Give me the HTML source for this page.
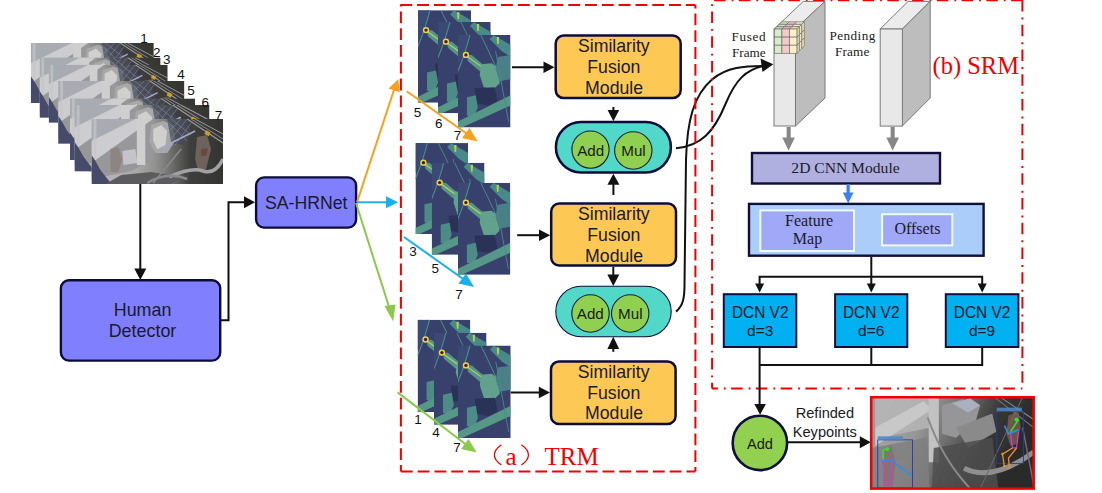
<!DOCTYPE html>
<html><head><meta charset="utf-8">
<style>
html,body{margin:0;padding:0;background:#fff;}
body{width:1102px;height:493px;overflow:hidden;}
svg{display:block;}
.sans{font-family:"Liberation Sans",sans-serif;}
.serif{font-family:"Liberation Serif",serif;}
</style></head>
<body>
<svg width="1102" height="493" viewBox="0 0 1102 493">
<defs>
  <filter id="bl" x="0" y="0" width="1" height="1"><feGaussianBlur stdDeviation="0.7"/></filter>
  <filter id="bl2" x="0" y="0" width="1" height="1"><feGaussianBlur stdDeviation="0.45"/></filter>
  <linearGradient id="phbg" x1="0" y1="0" x2="1" y2="0">
    <stop offset="0" stop-color="#b8bac2"/>
    <stop offset="0.35" stop-color="#a8a8aa"/>
    <stop offset="0.5" stop-color="#8e8e8c"/>
    <stop offset="0.62" stop-color="#6a6a68"/>
    <stop offset="0.75" stop-color="#3e3e3c"/>
    <stop offset="1" stop-color="#343432"/>
  </linearGradient>

  <linearGradient id="outbg" x1="0" y1="0" x2="1" y2="0.25">
    <stop offset="0" stop-color="#aaaaaa"/>
    <stop offset="0.35" stop-color="#979797"/>
    <stop offset="0.6" stop-color="#626262"/>
    <stop offset="0.78" stop-color="#363636"/>
    <stop offset="1" stop-color="#2a2a2a"/>
  </linearGradient>
</defs>

<!-- ============ LEFT PHOTO STACK ============ -->
<g id="stack">
  <g filter="url(#bl)"><svg x="30.8" y="43" width="123" height="60" viewBox="0 0 132 65" preserveAspectRatio="none" overflow="hidden"><rect width="132" height="65" fill="url(#phbg)"/>
    <polygon points="0,0 44,0 0,22" fill="#a9abb2"/>
    <polygon points="0,22 44,0 62,0 0,44" fill="#cdcdd0"/>
    <polygon points="0,44 62,0 62,40 40,52 0,60" fill="#98989a"/>
    <rect x="2" y="0" width="3" height="40" fill="#c6c6c8" opacity="0.7"/>
    <polygon points="0,36 0,65 20,65 9,51 4,42" fill="#454c68"/>
    <polygon points="19,30 27,28 31,40 27,53 19,53" fill="#8e8480"/>
    <polygon points="31,32 44,30 46,44 32,46" fill="#c4c4ca"/>
    <rect x="45.5" y="0" width="8.5" height="46" fill="#cfcfcf"/>
    <polygon points="14,65 30,56 60,53 90,58 80,65" fill="#5c5c5e"/>
    <polygon points="60,6 72,2 82,6 84,22 76,34 64,34 58,22" fill="#a8a8aa"/>
    <polygon points="62,10 70,6 76,12 74,28 66,30 62,22" fill="#d0d0ce"/>
    <polygon points="76,0 96,0 100,14 92,26 80,24" fill="#464852" opacity="0.7"/>
    <path d="M76,2 L96,22 M80,0 L100,16 M96,0 L78,22 M90,0 L76,14 M100,4 L84,26" stroke="#8290c8" stroke-width="0.7" fill="none" opacity="0.8"/>
    <line x1="68" y1="30" x2="104" y2="12" stroke="#a0a8cc" stroke-width="1.6"/>
    <line x1="96" y1="0" x2="132" y2="24" stroke="#9a9aa0" stroke-width="1.2"/>
    <line x1="100" y1="0" x2="132" y2="20" stroke="#8a8a90" stroke-width="1"/>
    <line x1="104" y1="0" x2="132" y2="15" stroke="#9a9aa0" stroke-width="1"/>
    <rect x="114" y="12" width="5" height="4" fill="#c8a030" transform="rotate(30 116 14)"/>
    <polygon points="106,18 116,16 120,30 115,50 107,52 104,40" fill="#6e625a"/>
    <polygon points="110,30 117,29 115,37 110,37" fill="#6a3028" opacity="0.5"/>
    <path d="M78,58 Q100,48 112,52 T132,40" stroke="#a2a2a4" stroke-width="3.5" fill="none"/>
    <path d="M56,64 Q76,52 96,60" stroke="#8a8a8c" stroke-width="2.5" fill="none"/>
    <line x1="62" y1="64" x2="90" y2="30" stroke="#8a8a8c" stroke-width="1.5"/></svg></g>
  <g filter="url(#bl)"><svg x="39.6" y="57.5" width="121" height="60.3" viewBox="0 0 132 65" preserveAspectRatio="none" overflow="hidden"><rect width="132" height="65" fill="url(#phbg)"/>
    <polygon points="0,0 44,0 0,22" fill="#a9abb2"/>
    <polygon points="0,22 44,0 62,0 0,44" fill="#cdcdd0"/>
    <polygon points="0,44 62,0 62,40 40,52 0,60" fill="#98989a"/>
    <rect x="2" y="0" width="3" height="40" fill="#c6c6c8" opacity="0.7"/>
    <polygon points="0,36 0,65 20,65 9,51 4,42" fill="#454c68"/>
    <polygon points="19,30 27,28 31,40 27,53 19,53" fill="#8e8480"/>
    <polygon points="31,32 44,30 46,44 32,46" fill="#c4c4ca"/>
    <rect x="45.5" y="0" width="8.5" height="46" fill="#cfcfcf"/>
    <polygon points="14,65 30,56 60,53 90,58 80,65" fill="#5c5c5e"/>
    <polygon points="60,6 72,2 82,6 84,22 76,34 64,34 58,22" fill="#a8a8aa"/>
    <polygon points="62,10 70,6 76,12 74,28 66,30 62,22" fill="#d0d0ce"/>
    <polygon points="76,0 96,0 100,14 92,26 80,24" fill="#464852" opacity="0.7"/>
    <path d="M76,2 L96,22 M80,0 L100,16 M96,0 L78,22 M90,0 L76,14 M100,4 L84,26" stroke="#8290c8" stroke-width="0.7" fill="none" opacity="0.8"/>
    <line x1="68" y1="30" x2="104" y2="12" stroke="#a0a8cc" stroke-width="1.6"/>
    <line x1="96" y1="0" x2="132" y2="24" stroke="#9a9aa0" stroke-width="1.2"/>
    <line x1="100" y1="0" x2="132" y2="20" stroke="#8a8a90" stroke-width="1"/>
    <line x1="104" y1="0" x2="132" y2="15" stroke="#9a9aa0" stroke-width="1"/>
    <rect x="114" y="12" width="5" height="4" fill="#c8a030" transform="rotate(30 116 14)"/>
    <polygon points="106,18 116,16 120,30 115,50 107,52 104,40" fill="#6e625a"/>
    <polygon points="110,30 117,29 115,37 110,37" fill="#6a3028" opacity="0.5"/>
    <path d="M78,58 Q100,48 112,52 T132,40" stroke="#a2a2a4" stroke-width="3.5" fill="none"/>
    <path d="M56,64 Q76,52 96,60" stroke="#8a8a8c" stroke-width="2.5" fill="none"/>
    <line x1="62" y1="64" x2="90" y2="30" stroke="#8a8a8c" stroke-width="1.5"/></svg></g>
  <g filter="url(#bl)"><svg x="48.7" y="64.7" width="119" height="58" viewBox="0 0 132 65" preserveAspectRatio="none" overflow="hidden"><rect width="132" height="65" fill="url(#phbg)"/>
    <polygon points="0,0 44,0 0,22" fill="#a9abb2"/>
    <polygon points="0,22 44,0 62,0 0,44" fill="#cdcdd0"/>
    <polygon points="0,44 62,0 62,40 40,52 0,60" fill="#98989a"/>
    <rect x="2" y="0" width="3" height="40" fill="#c6c6c8" opacity="0.7"/>
    <polygon points="0,36 0,65 20,65 9,51 4,42" fill="#454c68"/>
    <polygon points="19,30 27,28 31,40 27,53 19,53" fill="#8e8480"/>
    <polygon points="31,32 44,30 46,44 32,46" fill="#c4c4ca"/>
    <rect x="45.5" y="0" width="8.5" height="46" fill="#cfcfcf"/>
    <polygon points="14,65 30,56 60,53 90,58 80,65" fill="#5c5c5e"/>
    <polygon points="60,6 72,2 82,6 84,22 76,34 64,34 58,22" fill="#a8a8aa"/>
    <polygon points="62,10 70,6 76,12 74,28 66,30 62,22" fill="#d0d0ce"/>
    <polygon points="76,0 96,0 100,14 92,26 80,24" fill="#464852" opacity="0.7"/>
    <path d="M76,2 L96,22 M80,0 L100,16 M96,0 L78,22 M90,0 L76,14 M100,4 L84,26" stroke="#8290c8" stroke-width="0.7" fill="none" opacity="0.8"/>
    <line x1="68" y1="30" x2="104" y2="12" stroke="#a0a8cc" stroke-width="1.6"/>
    <line x1="96" y1="0" x2="132" y2="24" stroke="#9a9aa0" stroke-width="1.2"/>
    <line x1="100" y1="0" x2="132" y2="20" stroke="#8a8a90" stroke-width="1"/>
    <line x1="104" y1="0" x2="132" y2="15" stroke="#9a9aa0" stroke-width="1"/>
    <rect x="114" y="12" width="5" height="4" fill="#c8a030" transform="rotate(30 116 14)"/>
    <polygon points="106,18 116,16 120,30 115,50 107,52 104,40" fill="#6e625a"/>
    <polygon points="110,30 117,29 115,37 110,37" fill="#6a3028" opacity="0.5"/>
    <path d="M78,58 Q100,48 112,52 T132,40" stroke="#a2a2a4" stroke-width="3.5" fill="none"/>
    <path d="M56,64 Q76,52 96,60" stroke="#8a8a8c" stroke-width="2.5" fill="none"/>
    <line x1="62" y1="64" x2="90" y2="30" stroke="#8a8a8c" stroke-width="1.5"/></svg></g>
  <g filter="url(#bl)"><svg x="58.2" y="81" width="126.2" height="62.8" viewBox="0 0 132 65" preserveAspectRatio="none" overflow="hidden"><rect width="132" height="65" fill="url(#phbg)"/>
    <polygon points="0,0 44,0 0,22" fill="#a9abb2"/>
    <polygon points="0,22 44,0 62,0 0,44" fill="#cdcdd0"/>
    <polygon points="0,44 62,0 62,40 40,52 0,60" fill="#98989a"/>
    <rect x="2" y="0" width="3" height="40" fill="#c6c6c8" opacity="0.7"/>
    <polygon points="0,36 0,65 20,65 9,51 4,42" fill="#454c68"/>
    <polygon points="19,30 27,28 31,40 27,53 19,53" fill="#8e8480"/>
    <polygon points="31,32 44,30 46,44 32,46" fill="#c4c4ca"/>
    <rect x="45.5" y="0" width="8.5" height="46" fill="#cfcfcf"/>
    <polygon points="14,65 30,56 60,53 90,58 80,65" fill="#5c5c5e"/>
    <polygon points="60,6 72,2 82,6 84,22 76,34 64,34 58,22" fill="#a8a8aa"/>
    <polygon points="62,10 70,6 76,12 74,28 66,30 62,22" fill="#d0d0ce"/>
    <polygon points="76,0 96,0 100,14 92,26 80,24" fill="#464852" opacity="0.7"/>
    <path d="M76,2 L96,22 M80,0 L100,16 M96,0 L78,22 M90,0 L76,14 M100,4 L84,26" stroke="#8290c8" stroke-width="0.7" fill="none" opacity="0.8"/>
    <line x1="68" y1="30" x2="104" y2="12" stroke="#a0a8cc" stroke-width="1.6"/>
    <line x1="96" y1="0" x2="132" y2="24" stroke="#9a9aa0" stroke-width="1.2"/>
    <line x1="100" y1="0" x2="132" y2="20" stroke="#8a8a90" stroke-width="1"/>
    <line x1="104" y1="0" x2="132" y2="15" stroke="#9a9aa0" stroke-width="1"/>
    <rect x="114" y="12" width="5" height="4" fill="#c8a030" transform="rotate(30 116 14)"/>
    <polygon points="106,18 116,16 120,30 115,50 107,52 104,40" fill="#6e625a"/>
    <polygon points="110,30 117,29 115,37 110,37" fill="#6a3028" opacity="0.5"/>
    <path d="M78,58 Q100,48 112,52 T132,40" stroke="#a2a2a4" stroke-width="3.5" fill="none"/>
    <path d="M56,64 Q76,52 96,60" stroke="#8a8a8c" stroke-width="2.5" fill="none"/>
    <line x1="62" y1="64" x2="90" y2="30" stroke="#8a8a8c" stroke-width="1.5"/></svg></g>
  <g filter="url(#bl)"><svg x="70" y="98.4" width="125" height="61.6" viewBox="0 0 132 65" preserveAspectRatio="none" overflow="hidden"><rect width="132" height="65" fill="url(#phbg)"/>
    <polygon points="0,0 44,0 0,22" fill="#a9abb2"/>
    <polygon points="0,22 44,0 62,0 0,44" fill="#cdcdd0"/>
    <polygon points="0,44 62,0 62,40 40,52 0,60" fill="#98989a"/>
    <rect x="2" y="0" width="3" height="40" fill="#c6c6c8" opacity="0.7"/>
    <polygon points="0,36 0,65 20,65 9,51 4,42" fill="#454c68"/>
    <polygon points="19,30 27,28 31,40 27,53 19,53" fill="#8e8480"/>
    <polygon points="31,32 44,30 46,44 32,46" fill="#c4c4ca"/>
    <rect x="45.5" y="0" width="8.5" height="46" fill="#cfcfcf"/>
    <polygon points="14,65 30,56 60,53 90,58 80,65" fill="#5c5c5e"/>
    <polygon points="60,6 72,2 82,6 84,22 76,34 64,34 58,22" fill="#a8a8aa"/>
    <polygon points="62,10 70,6 76,12 74,28 66,30 62,22" fill="#d0d0ce"/>
    <polygon points="76,0 96,0 100,14 92,26 80,24" fill="#464852" opacity="0.7"/>
    <path d="M76,2 L96,22 M80,0 L100,16 M96,0 L78,22 M90,0 L76,14 M100,4 L84,26" stroke="#8290c8" stroke-width="0.7" fill="none" opacity="0.8"/>
    <line x1="68" y1="30" x2="104" y2="12" stroke="#a0a8cc" stroke-width="1.6"/>
    <line x1="96" y1="0" x2="132" y2="24" stroke="#9a9aa0" stroke-width="1.2"/>
    <line x1="100" y1="0" x2="132" y2="20" stroke="#8a8a90" stroke-width="1"/>
    <line x1="104" y1="0" x2="132" y2="15" stroke="#9a9aa0" stroke-width="1"/>
    <rect x="114" y="12" width="5" height="4" fill="#c8a030" transform="rotate(30 116 14)"/>
    <polygon points="106,18 116,16 120,30 115,50 107,52 104,40" fill="#6e625a"/>
    <polygon points="110,30 117,29 115,37 110,37" fill="#6a3028" opacity="0.5"/>
    <path d="M78,58 Q100,48 112,52 T132,40" stroke="#a2a2a4" stroke-width="3.5" fill="none"/>
    <path d="M56,64 Q76,52 96,60" stroke="#8a8a8c" stroke-width="2.5" fill="none"/>
    <line x1="62" y1="64" x2="90" y2="30" stroke="#8a8a8c" stroke-width="1.5"/></svg></g>
  <g filter="url(#bl)"><svg x="74.5" y="105" width="135" height="66.4" viewBox="0 0 132 65" preserveAspectRatio="none" overflow="hidden"><rect width="132" height="65" fill="url(#phbg)"/>
    <polygon points="0,0 44,0 0,22" fill="#a9abb2"/>
    <polygon points="0,22 44,0 62,0 0,44" fill="#cdcdd0"/>
    <polygon points="0,44 62,0 62,40 40,52 0,60" fill="#98989a"/>
    <rect x="2" y="0" width="3" height="40" fill="#c6c6c8" opacity="0.7"/>
    <polygon points="0,36 0,65 20,65 9,51 4,42" fill="#454c68"/>
    <polygon points="19,30 27,28 31,40 27,53 19,53" fill="#8e8480"/>
    <polygon points="31,32 44,30 46,44 32,46" fill="#c4c4ca"/>
    <rect x="45.5" y="0" width="8.5" height="46" fill="#cfcfcf"/>
    <polygon points="14,65 30,56 60,53 90,58 80,65" fill="#5c5c5e"/>
    <polygon points="60,6 72,2 82,6 84,22 76,34 64,34 58,22" fill="#a8a8aa"/>
    <polygon points="62,10 70,6 76,12 74,28 66,30 62,22" fill="#d0d0ce"/>
    <polygon points="76,0 96,0 100,14 92,26 80,24" fill="#464852" opacity="0.7"/>
    <path d="M76,2 L96,22 M80,0 L100,16 M96,0 L78,22 M90,0 L76,14 M100,4 L84,26" stroke="#8290c8" stroke-width="0.7" fill="none" opacity="0.8"/>
    <line x1="68" y1="30" x2="104" y2="12" stroke="#a0a8cc" stroke-width="1.6"/>
    <line x1="96" y1="0" x2="132" y2="24" stroke="#9a9aa0" stroke-width="1.2"/>
    <line x1="100" y1="0" x2="132" y2="20" stroke="#8a8a90" stroke-width="1"/>
    <line x1="104" y1="0" x2="132" y2="15" stroke="#9a9aa0" stroke-width="1"/>
    <rect x="114" y="12" width="5" height="4" fill="#c8a030" transform="rotate(30 116 14)"/>
    <polygon points="106,18 116,16 120,30 115,50 107,52 104,40" fill="#6e625a"/>
    <polygon points="110,30 117,29 115,37 110,37" fill="#6a3028" opacity="0.5"/>
    <path d="M78,58 Q100,48 112,52 T132,40" stroke="#a2a2a4" stroke-width="3.5" fill="none"/>
    <path d="M56,64 Q76,52 96,60" stroke="#8a8a8c" stroke-width="2.5" fill="none"/>
    <line x1="62" y1="64" x2="90" y2="30" stroke="#8a8a8c" stroke-width="1.5"/></svg></g>
  <g filter="url(#bl)"><svg x="91.5" y="119" width="131.5" height="65" viewBox="0 0 132 65" preserveAspectRatio="none" overflow="hidden"><rect width="132" height="65" fill="url(#phbg)"/>
    <polygon points="0,0 44,0 0,22" fill="#a9abb2"/>
    <polygon points="0,22 44,0 62,0 0,44" fill="#cdcdd0"/>
    <polygon points="0,44 62,0 62,40 40,52 0,60" fill="#98989a"/>
    <rect x="2" y="0" width="3" height="40" fill="#c6c6c8" opacity="0.7"/>
    <polygon points="0,36 0,65 20,65 9,51 4,42" fill="#454c68"/>
    <polygon points="19,30 27,28 31,40 27,53 19,53" fill="#8e8480"/>
    <polygon points="31,32 44,30 46,44 32,46" fill="#c4c4ca"/>
    <rect x="45.5" y="0" width="8.5" height="46" fill="#cfcfcf"/>
    <polygon points="14,65 30,56 60,53 90,58 80,65" fill="#5c5c5e"/>
    <polygon points="60,6 72,2 82,6 84,22 76,34 64,34 58,22" fill="#a8a8aa"/>
    <polygon points="62,10 70,6 76,12 74,28 66,30 62,22" fill="#d0d0ce"/>
    <polygon points="76,0 96,0 100,14 92,26 80,24" fill="#464852" opacity="0.7"/>
    <path d="M76,2 L96,22 M80,0 L100,16 M96,0 L78,22 M90,0 L76,14 M100,4 L84,26" stroke="#8290c8" stroke-width="0.7" fill="none" opacity="0.8"/>
    <line x1="68" y1="30" x2="104" y2="12" stroke="#a0a8cc" stroke-width="1.6"/>
    <line x1="96" y1="0" x2="132" y2="24" stroke="#9a9aa0" stroke-width="1.2"/>
    <line x1="100" y1="0" x2="132" y2="20" stroke="#8a8a90" stroke-width="1"/>
    <line x1="104" y1="0" x2="132" y2="15" stroke="#9a9aa0" stroke-width="1"/>
    <rect x="114" y="12" width="5" height="4" fill="#c8a030" transform="rotate(30 116 14)"/>
    <polygon points="106,18 116,16 120,30 115,50 107,52 104,40" fill="#6e625a"/>
    <polygon points="110,30 117,29 115,37 110,37" fill="#6a3028" opacity="0.5"/>
    <path d="M78,58 Q100,48 112,52 T132,40" stroke="#a2a2a4" stroke-width="3.5" fill="none"/>
    <path d="M56,64 Q76,52 96,60" stroke="#8a8a8c" stroke-width="2.5" fill="none"/>
    <line x1="62" y1="64" x2="90" y2="30" stroke="#8a8a8c" stroke-width="1.5"/></svg></g>
</g>
<g class="sans" font-size="13.5" fill="#111" text-anchor="middle">
  <text x="144.1" y="43">1</text>
  <text x="156.7" y="56.8">2</text>
  <text x="166.8" y="64.1">3</text>
  <text x="181.1" y="78.8">4</text>
  <text x="191" y="94.9">5</text>
  <text x="205.3" y="106.8">6</text>
  <text x="218.4" y="119.8">7</text>
</g>

<!-- connectors left -->
<g stroke="#111" stroke-width="2" fill="none">
  <line x1="140.3" y1="184" x2="140.3" y2="270"/>
  <polyline points="221,320.3 228.5,320.3 228.5,202.3 246,202.3"/>
</g>
<g fill="#111">
  <polygon points="134.3,268.5 146.3,268.5 140.3,280"/>
  <polygon points="244,196.3 244,208.3 255,202.3"/>
</g>

<!-- Human Detector -->
<rect x="60.9" y="280.3" width="159.3" height="80.3" rx="8" fill="#8080ff" stroke="#0c0c3c" stroke-width="2.4"/>
<g class="sans" font-size="17.9" fill="#1a1a2a" text-anchor="middle">
  <text x="142.6" y="316.3">Human</text>
  <text x="142.5" y="337.2">Detector</text>
</g>

<!-- SA-HRNet -->
<rect x="256.1" y="177.4" width="100" height="50.2" rx="8" fill="#8080ff" stroke="#0c0c3c" stroke-width="2.4"/>
<text class="sans" x="306.2" y="208.7" font-size="17.7" fill="#1a1a2a" text-anchor="middle">SA-HRNet</text>

<!-- colored arrows from SA-HRNet -->
<g stroke-width="2" fill="none">
  <line x1="357" y1="202.3" x2="394.3" y2="89" stroke="#f7a11a"/>
  <line x1="357" y1="202.3" x2="388" y2="202.3" stroke="#1ab0ea"/>
  <line x1="356" y1="203" x2="390" y2="310" stroke="#8cc84b"/>
</g>
<polygon points="398.3,79.2 399.7,92.2 388.5,88.6" fill="#f7a11a"/>
<polygon points="386,196.3 386,208.3 398,202.3" fill="#1ab0ea"/>
<polygon points="393.2,321.6 384.5,306 395.5,304.5" fill="#8cc84b"/>

<!-- ============ TRM ============ -->
<!-- frames group A -->
<g filter="url(#bl2)"><svg x="418" y="10.2" width="53" height="92.5" viewBox="0 0 53 92" preserveAspectRatio="none" overflow="hidden"><rect width="53" height="92" fill="#383f6c"/>
    <polygon points="0,0 12,0 4,22 0,30" fill="#3a4a74"/>
    <path d="M12,0 Q8,16 0,36" stroke="#4a8a8c" stroke-width="1.2" fill="none"/>
    <path d="M23,0 Q30,14 38,31" stroke="#4a8a8c" stroke-width="1" fill="none"/>
    <polygon points="36,0 53,10 53,22 44,16 32,4" fill="#478a88"/>
    <polygon points="39,2 41.5,2 41,9 39.5,9" fill="#b4d050"/>
    <polygon points="9,20 14,20 26,30 28,36 22,36 10,26" fill="#55958a"/>
    <polygon points="23,29 34,28 42,34 42,48 36,54 26,52 22,40" fill="#62a28c"/>
    <polygon points="40,22 53,20 53,44 42,46 38,34" fill="#487f86"/>
    <polygon points="17,53 37,52 40,66 30,70 18,68" fill="#2c3259"/>
    <polygon points="9,62 18,60 20,72 16,82 9,80" fill="#4d8c86"/>
    <polygon points="0,86 53,60 53,70 4,92 0,92" fill="#579888"/>
    <line x1="38" y1="16" x2="51" y2="86" stroke="#4a8a8c" stroke-width="0.9"/>
    <line x1="9" y1="21" x2="23" y2="31" stroke="#c0d45a" stroke-width="1.1"/>
    <circle cx="8" cy="19.8" r="3.2" fill="#dcdc50"/>
    <circle cx="8" cy="19.8" r="1.7" fill="#6a1020"/></svg></g>
<g filter="url(#bl2)"><svg x="438" y="22" width="52.7" height="91.3" viewBox="0 0 53 92" preserveAspectRatio="none" overflow="hidden"><rect width="53" height="92" fill="#383f6c"/>
    <polygon points="0,0 12,0 4,22 0,30" fill="#3a4a74"/>
    <path d="M12,0 Q8,16 0,36" stroke="#4a8a8c" stroke-width="1.2" fill="none"/>
    <path d="M23,0 Q30,14 38,31" stroke="#4a8a8c" stroke-width="1" fill="none"/>
    <polygon points="36,0 53,10 53,22 44,16 32,4" fill="#478a88"/>
    <polygon points="39,2 41.5,2 41,9 39.5,9" fill="#b4d050"/>
    <polygon points="9,20 14,20 26,30 28,36 22,36 10,26" fill="#55958a"/>
    <polygon points="23,29 34,28 42,34 42,48 36,54 26,52 22,40" fill="#62a28c"/>
    <polygon points="40,22 53,20 53,44 42,46 38,34" fill="#487f86"/>
    <polygon points="17,53 37,52 40,66 30,70 18,68" fill="#2c3259"/>
    <polygon points="9,62 18,60 20,72 16,82 9,80" fill="#4d8c86"/>
    <polygon points="0,86 53,60 53,70 4,92 0,92" fill="#579888"/>
    <line x1="38" y1="16" x2="51" y2="86" stroke="#4a8a8c" stroke-width="0.9"/>
    <line x1="9" y1="21" x2="23" y2="31" stroke="#c0d45a" stroke-width="1.1"/>
    <circle cx="8" cy="19.8" r="3.2" fill="#dcdc50"/>
    <circle cx="8" cy="19.8" r="1.7" fill="#6a1020"/></svg></g>
<g filter="url(#bl2)"><svg x="458" y="35" width="52.5" height="92.5" viewBox="0 0 53 92" preserveAspectRatio="none" overflow="hidden"><rect width="53" height="92" fill="#383f6c"/>
    <polygon points="0,0 12,0 4,22 0,30" fill="#3a4a74"/>
    <path d="M12,0 Q8,16 0,36" stroke="#4a8a8c" stroke-width="1.2" fill="none"/>
    <path d="M23,0 Q30,14 38,31" stroke="#4a8a8c" stroke-width="1" fill="none"/>
    <polygon points="36,0 53,10 53,22 44,16 32,4" fill="#478a88"/>
    <polygon points="39,2 41.5,2 41,9 39.5,9" fill="#b4d050"/>
    <polygon points="9,20 14,20 26,30 28,36 22,36 10,26" fill="#55958a"/>
    <polygon points="23,29 34,28 42,34 42,48 36,54 26,52 22,40" fill="#62a28c"/>
    <polygon points="40,22 53,20 53,44 42,46 38,34" fill="#487f86"/>
    <polygon points="17,53 37,52 40,66 30,70 18,68" fill="#2c3259"/>
    <polygon points="9,62 18,60 20,72 16,82 9,80" fill="#4d8c86"/>
    <polygon points="0,86 53,60 53,70 4,92 0,92" fill="#579888"/>
    <line x1="38" y1="16" x2="51" y2="86" stroke="#4a8a8c" stroke-width="0.9"/>
    <line x1="9" y1="21" x2="23" y2="31" stroke="#c0d45a" stroke-width="1.1"/>
    <circle cx="8" cy="19.8" r="3.2" fill="#dcdc50"/>
    <circle cx="8" cy="19.8" r="1.7" fill="#6a1020"/></svg></g>
<!-- group B -->
<g filter="url(#bl2)"><svg x="415.5" y="143.1" width="52.5" height="90.9" viewBox="0 0 53 92" preserveAspectRatio="none" overflow="hidden"><rect width="53" height="92" fill="#383f6c"/>
    <polygon points="0,0 12,0 4,22 0,30" fill="#3a4a74"/>
    <path d="M12,0 Q8,16 0,36" stroke="#4a8a8c" stroke-width="1.2" fill="none"/>
    <path d="M23,0 Q30,14 38,31" stroke="#4a8a8c" stroke-width="1" fill="none"/>
    <polygon points="36,0 53,10 53,22 44,16 32,4" fill="#478a88"/>
    <polygon points="39,2 41.5,2 41,9 39.5,9" fill="#b4d050"/>
    <polygon points="9,20 14,20 26,30 28,36 22,36 10,26" fill="#55958a"/>
    <polygon points="23,29 34,28 42,34 42,48 36,54 26,52 22,40" fill="#62a28c"/>
    <polygon points="40,22 53,20 53,44 42,46 38,34" fill="#487f86"/>
    <polygon points="17,53 37,52 40,66 30,70 18,68" fill="#2c3259"/>
    <polygon points="9,62 18,60 20,72 16,82 9,80" fill="#4d8c86"/>
    <polygon points="0,86 53,60 53,70 4,92 0,92" fill="#579888"/>
    <line x1="38" y1="16" x2="51" y2="86" stroke="#4a8a8c" stroke-width="0.9"/>
    <line x1="9" y1="21" x2="23" y2="31" stroke="#c0d45a" stroke-width="1.1"/>
    <circle cx="8" cy="19.8" r="3.2" fill="#dcdc50"/>
    <circle cx="8" cy="19.8" r="1.7" fill="#6a1020"/></svg></g>
<g filter="url(#bl2)"><svg x="431.7" y="162.8" width="52.8" height="92" viewBox="0 0 53 92" preserveAspectRatio="none" overflow="hidden"><rect width="53" height="92" fill="#383f6c"/>
    <polygon points="0,0 12,0 4,22 0,30" fill="#3a4a74"/>
    <path d="M12,0 Q8,16 0,36" stroke="#4a8a8c" stroke-width="1.2" fill="none"/>
    <path d="M23,0 Q30,14 38,31" stroke="#4a8a8c" stroke-width="1" fill="none"/>
    <polygon points="36,0 53,10 53,22 44,16 32,4" fill="#478a88"/>
    <polygon points="39,2 41.5,2 41,9 39.5,9" fill="#b4d050"/>
    <polygon points="9,20 14,20 26,30 28,36 22,36 10,26" fill="#55958a"/>
    <polygon points="23,29 34,28 42,34 42,48 36,54 26,52 22,40" fill="#62a28c"/>
    <polygon points="40,22 53,20 53,44 42,46 38,34" fill="#487f86"/>
    <polygon points="17,53 37,52 40,66 30,70 18,68" fill="#2c3259"/>
    <polygon points="9,62 18,60 20,72 16,82 9,80" fill="#4d8c86"/>
    <polygon points="0,86 53,60 53,70 4,92 0,92" fill="#579888"/>
    <line x1="38" y1="16" x2="51" y2="86" stroke="#4a8a8c" stroke-width="0.9"/>
    <line x1="9" y1="21" x2="23" y2="31" stroke="#c0d45a" stroke-width="1.1"/>
    <circle cx="8" cy="19.8" r="3.2" fill="#dcdc50"/>
    <circle cx="8" cy="19.8" r="1.7" fill="#6a1020"/></svg></g>
<g filter="url(#bl2)"><svg x="458" y="182.8" width="52.3" height="92" viewBox="0 0 53 92" preserveAspectRatio="none" overflow="hidden"><rect width="53" height="92" fill="#383f6c"/>
    <polygon points="0,0 12,0 4,22 0,30" fill="#3a4a74"/>
    <path d="M12,0 Q8,16 0,36" stroke="#4a8a8c" stroke-width="1.2" fill="none"/>
    <path d="M23,0 Q30,14 38,31" stroke="#4a8a8c" stroke-width="1" fill="none"/>
    <polygon points="36,0 53,10 53,22 44,16 32,4" fill="#478a88"/>
    <polygon points="39,2 41.5,2 41,9 39.5,9" fill="#b4d050"/>
    <polygon points="9,20 14,20 26,30 28,36 22,36 10,26" fill="#55958a"/>
    <polygon points="23,29 34,28 42,34 42,48 36,54 26,52 22,40" fill="#62a28c"/>
    <polygon points="40,22 53,20 53,44 42,46 38,34" fill="#487f86"/>
    <polygon points="17,53 37,52 40,66 30,70 18,68" fill="#2c3259"/>
    <polygon points="9,62 18,60 20,72 16,82 9,80" fill="#4d8c86"/>
    <polygon points="0,86 53,60 53,70 4,92 0,92" fill="#579888"/>
    <line x1="38" y1="16" x2="51" y2="86" stroke="#4a8a8c" stroke-width="0.9"/>
    <line x1="9" y1="21" x2="23" y2="31" stroke="#c0d45a" stroke-width="1.1"/>
    <circle cx="8" cy="19.8" r="3.2" fill="#dcdc50"/>
    <circle cx="8" cy="19.8" r="1.7" fill="#6a1020"/></svg></g>
<!-- group C -->
<g filter="url(#bl2)"><svg x="417.6" y="319.7" width="52.7" height="92.3" viewBox="0 0 53 92" preserveAspectRatio="none" overflow="hidden"><rect width="53" height="92" fill="#383f6c"/>
    <polygon points="0,0 12,0 4,22 0,30" fill="#3a4a74"/>
    <path d="M12,0 Q8,16 0,36" stroke="#4a8a8c" stroke-width="1.2" fill="none"/>
    <path d="M23,0 Q30,14 38,31" stroke="#4a8a8c" stroke-width="1" fill="none"/>
    <polygon points="36,0 53,10 53,22 44,16 32,4" fill="#478a88"/>
    <polygon points="39,2 41.5,2 41,9 39.5,9" fill="#b4d050"/>
    <polygon points="9,20 14,20 26,30 28,36 22,36 10,26" fill="#55958a"/>
    <polygon points="23,29 34,28 42,34 42,48 36,54 26,52 22,40" fill="#62a28c"/>
    <polygon points="40,22 53,20 53,44 42,46 38,34" fill="#487f86"/>
    <polygon points="17,53 37,52 40,66 30,70 18,68" fill="#2c3259"/>
    <polygon points="9,62 18,60 20,72 16,82 9,80" fill="#4d8c86"/>
    <polygon points="0,86 53,60 53,70 4,92 0,92" fill="#579888"/>
    <line x1="38" y1="16" x2="51" y2="86" stroke="#4a8a8c" stroke-width="0.9"/>
    <line x1="9" y1="21" x2="23" y2="31" stroke="#c0d45a" stroke-width="1.1"/>
    <circle cx="8" cy="19.8" r="3.2" fill="#dcdc50"/>
    <circle cx="8" cy="19.8" r="1.7" fill="#6a1020"/></svg></g>
<g filter="url(#bl2)"><svg x="434" y="332.8" width="52.5" height="92" viewBox="0 0 53 92" preserveAspectRatio="none" overflow="hidden"><rect width="53" height="92" fill="#383f6c"/>
    <polygon points="0,0 12,0 4,22 0,30" fill="#3a4a74"/>
    <path d="M12,0 Q8,16 0,36" stroke="#4a8a8c" stroke-width="1.2" fill="none"/>
    <path d="M23,0 Q30,14 38,31" stroke="#4a8a8c" stroke-width="1" fill="none"/>
    <polygon points="36,0 53,10 53,22 44,16 32,4" fill="#478a88"/>
    <polygon points="39,2 41.5,2 41,9 39.5,9" fill="#b4d050"/>
    <polygon points="9,20 14,20 26,30 28,36 22,36 10,26" fill="#55958a"/>
    <polygon points="23,29 34,28 42,34 42,48 36,54 26,52 22,40" fill="#62a28c"/>
    <polygon points="40,22 53,20 53,44 42,46 38,34" fill="#487f86"/>
    <polygon points="17,53 37,52 40,66 30,70 18,68" fill="#2c3259"/>
    <polygon points="9,62 18,60 20,72 16,82 9,80" fill="#4d8c86"/>
    <polygon points="0,86 53,60 53,70 4,92 0,92" fill="#579888"/>
    <line x1="38" y1="16" x2="51" y2="86" stroke="#4a8a8c" stroke-width="0.9"/>
    <line x1="9" y1="21" x2="23" y2="31" stroke="#c0d45a" stroke-width="1.1"/>
    <circle cx="8" cy="19.8" r="3.2" fill="#dcdc50"/>
    <circle cx="8" cy="19.8" r="1.7" fill="#6a1020"/></svg></g>
<g filter="url(#bl2)"><svg x="458" y="345.5" width="52.7" height="92.5" viewBox="0 0 53 92" preserveAspectRatio="none" overflow="hidden"><rect width="53" height="92" fill="#383f6c"/>
    <polygon points="0,0 12,0 4,22 0,30" fill="#3a4a74"/>
    <path d="M12,0 Q8,16 0,36" stroke="#4a8a8c" stroke-width="1.2" fill="none"/>
    <path d="M23,0 Q30,14 38,31" stroke="#4a8a8c" stroke-width="1" fill="none"/>
    <polygon points="36,0 53,10 53,22 44,16 32,4" fill="#478a88"/>
    <polygon points="39,2 41.5,2 41,9 39.5,9" fill="#b4d050"/>
    <polygon points="9,20 14,20 26,30 28,36 22,36 10,26" fill="#55958a"/>
    <polygon points="23,29 34,28 42,34 42,48 36,54 26,52 22,40" fill="#62a28c"/>
    <polygon points="40,22 53,20 53,44 42,46 38,34" fill="#487f86"/>
    <polygon points="17,53 37,52 40,66 30,70 18,68" fill="#2c3259"/>
    <polygon points="9,62 18,60 20,72 16,82 9,80" fill="#4d8c86"/>
    <polygon points="0,86 53,60 53,70 4,92 0,92" fill="#579888"/>
    <line x1="38" y1="16" x2="51" y2="86" stroke="#4a8a8c" stroke-width="0.9"/>
    <line x1="9" y1="21" x2="23" y2="31" stroke="#c0d45a" stroke-width="1.1"/>
    <circle cx="8" cy="19.8" r="3.2" fill="#dcdc50"/>
    <circle cx="8" cy="19.8" r="1.7" fill="#6a1020"/></svg></g>

<g class="sans" font-size="13.5" fill="#111" text-anchor="middle">
  <text x="417.5" y="117.2">5</text>
  <text x="438.7" y="128.3">6</text>
  <text x="457.5" y="139.7">7</text>
  <text x="413.1" y="255.6">3</text>
  <text x="435.3" y="272.7">5</text>
  <text x="459" y="298.7">7</text>
  <text x="418" y="424">1</text>
  <text x="436.1" y="437.4">4</text>
  <text x="457" y="451.9">7</text>
</g>

<g stroke-width="2" fill="none">
  <line x1="406.7" y1="91.3" x2="470" y2="136" stroke="#f7a11a"/>
  <line x1="404" y1="237" x2="466" y2="281" stroke="#1ab0ea"/>
  <line x1="397.6" y1="392.4" x2="468" y2="446" stroke="#8cc84b"/>
</g>
<polygon points="477.6,141.5 462,138 469.5,128" fill="#f7a11a"/>
<polygon points="474,287 458.5,283.5 466,273.5" fill="#1ab0ea"/>
<polygon points="476.7,452.5 461,449 468.5,439" fill="#8cc84b"/>

<!-- arrows frames -> SFM -->
<g stroke="#111" stroke-width="2">
  <line x1="512" y1="67.2" x2="545" y2="67.2"/>
  <line x1="517.2" y1="235.2" x2="541" y2="235.2"/>
  <line x1="510.7" y1="392.5" x2="541" y2="392.5"/>
</g>
<g fill="#111">
  <polygon points="543.5,61.5 543.5,73 554.5,67.2"/>
  <polygon points="539,229.5 539,241 550.2,235.2"/>
  <polygon points="538.8,386.8 538.8,398.2 550,392.5"/>
</g>

<!-- SFM boxes -->
<g fill="#fdc853" stroke="#0c0c3c" stroke-width="2.5">
  <rect x="555.7" y="35.6" width="125" height="62.5" rx="8"/>
  <rect x="551.2" y="203.5" width="124.8" height="62" rx="8"/>
  <rect x="551" y="361.4" width="124.6" height="62.5" rx="8"/>
</g>
<g class="sans" font-size="17.7" fill="#1a1a2a" text-anchor="middle">
  <text x="613.8" y="52.1">Similarity</text>
  <text x="613.8" y="73.1">Fusion</text>
  <text x="614.1" y="94.1">Module</text>
  <text x="613.8" y="220.2">Similarity</text>
  <text x="613.8" y="241.1">Fusion</text>
  <text x="614.1" y="261.9">Module</text>
  <text x="613.7" y="377.5">Similarity</text>
  <text x="613.7" y="398.6">Fusion</text>
  <text x="614" y="419.4">Module</text>
</g>

<!-- vertical arrows to capsules -->
<g stroke="#111" stroke-width="2">
  <line x1="613.4" y1="107" x2="613.4" y2="111"/>
  <line x1="613.4" y1="195" x2="613.4" y2="184"/>
  <line x1="613.3" y1="267" x2="613.3" y2="275"/>
  <line x1="613.3" y1="351.8" x2="613.3" y2="348"/>
</g>
<g fill="#111">
  <polygon points="607.6,110 619.2,110 613.4,121.3"/>
  <polygon points="607.4,184.8 619.4,184.8 613.4,173.7"/>
  <polygon points="607.3,274.4 619.3,274.4 613.3,286"/>
  <polygon points="607.4,348.9 619.2,348.9 613.3,336.8"/>
</g>

<!-- capsules -->
<rect x="555.9" y="122.1" width="115" height="50.3" rx="25.1" fill="#52d8c8" stroke="#0c0c3c" stroke-width="2.5"/>
<rect x="555.8" y="286.2" width="115.4" height="50.5" rx="25.2" fill="#52d8c8" stroke="#0c0c3c" stroke-width="1.1"/>
<g fill="#90d050" stroke="#141c3c" stroke-width="1.1">
  <circle cx="590.5" cy="149.6" r="18.6"/>
  <circle cx="633.3" cy="150.5" r="18.7"/>
  <circle cx="590.5" cy="313.5" r="18.7"/>
  <circle cx="630.2" cy="313.5" r="18.7"/>
</g>
<g class="sans" font-size="15.2" fill="#1a1a1a" text-anchor="middle">
  <text x="590.7" y="155.9">Add</text>
  <text x="633.5" y="156.2">Mul</text>
  <text x="590.3" y="319.3">Add</text>
  <text x="630.3" y="319.3">Mul</text>
</g>

<!-- curves to fused frame -->
<g stroke="#111" stroke-width="2" fill="none">
  <path d="M676,148.3 C701,146 714,132 725.5,104 C736,79 746,70 763,66"/>
  <path d="M676,311.6 C683,306 684.5,298 684.5,285 L686,160 C687,120 694,95 712,79.5 C727,67 745,66 763,66"/>
</g>
<polygon points="773.3,64.3 760.5,58.5 762.5,72" fill="#111"/>

<!-- TRM border -->
<g stroke="#f00000" stroke-width="2" fill="none" stroke-dasharray="11.8 5">
  <path d="M400.3,4.9 H695.4"/>
  <path d="M695.4,4.9 V471.4" stroke-dashoffset="8.2"/>
  <path d="M400.9,471.4 V4.9" stroke-dashoffset="5.4"/>
  <path d="M400.9,471.4 H695.4"/>
</g>
<g class="serif" font-size="25" fill="#f00000">
  <text x="505.6" y="464.6">a</text>
  <text x="544.5" y="464.6">TRM</text>
</g>

<path d="M501.4,444.8 Q487.3,454.9 501.4,465 M521.4,444.8 Q535.5,454.9 521.4,465" stroke="#f00000" stroke-width="1.25" fill="none"/>
<!-- SRM border dash-dot -->
<g stroke="#f00000" stroke-width="2" fill="none" stroke-dasharray="11.5 6 1.8 5.45">
  <path d="M712.1,0.2 H1022.4" stroke-dashoffset="22.75"/>
  <path d="M712.1,0 V388.5" stroke-dashoffset="13.3"/>
  <path d="M712.1,388.5 H1022.4" stroke-dashoffset="5.7"/>
  <path d="M1022.4,0.2 V388.5" stroke-dashoffset="0.1"/>
</g>

<!-- ============ SRM ============ -->
<!-- Fused frame slab -->
<g stroke="#7a7a7a" stroke-width="1">
  <polygon points="774.4,28.8 795.5,28.8 825,1.4 803.3,1.4" fill="#ececec"/>
  <polygon points="795.5,28.8 825,1.4 825,98 795.5,126" fill="#bdbdbd"/>
  <rect x="774" y="28.8" width="21.5" height="97.2" fill="#e8e8e8"/>
</g>
<!-- cube -->
<g stroke="#6e6e6e" stroke-width="0.7">
<polygon points="774.40,29.00 781.90,29.00 784.37,26.60 776.87,26.60" fill="#cfe4c0"/>
<polygon points="776.87,26.60 784.37,26.60 786.83,24.20 779.33,24.20" fill="#cfe4c0"/>
<polygon points="779.33,24.20 786.83,24.20 789.30,21.80 781.80,21.80" fill="#cfe4c0"/>
<polygon points="781.90,29.00 789.40,29.00 791.87,26.60 784.37,26.60" fill="#eec0c4"/>
<polygon points="784.37,26.60 791.87,26.60 794.33,24.20 786.83,24.20" fill="#eec0c4"/>
<polygon points="786.83,24.20 794.33,24.20 796.80,21.80 789.30,21.80" fill="#eec0c4"/>
<polygon points="789.40,29.00 796.90,29.00 799.37,26.60 791.87,26.60" fill="#f6e8bc"/>
<polygon points="791.87,26.60 799.37,26.60 801.83,24.20 794.33,24.20" fill="#f6e8bc"/>
<polygon points="794.33,24.20 801.83,24.20 804.30,21.80 796.80,21.80" fill="#f6e8bc"/>
<polygon points="796.90,29.00 799.37,26.60 799.37,34.70 796.90,37.10" fill="#f3e6bc"/>
<polygon points="796.90,37.10 799.37,34.70 799.37,42.80 796.90,45.20" fill="#f3e6bc"/>
<polygon points="796.90,45.20 799.37,42.80 799.37,50.90 796.90,53.30" fill="#f3e6bc"/>
<polygon points="799.37,26.60 801.83,24.20 801.83,32.30 799.37,34.70" fill="#f3e6bc"/>
<polygon points="799.37,34.70 801.83,32.30 801.83,40.40 799.37,42.80" fill="#f3e6bc"/>
<polygon points="799.37,42.80 801.83,40.40 801.83,48.50 799.37,50.90" fill="#f3e6bc"/>
<polygon points="801.83,24.20 804.30,21.80 804.30,29.90 801.83,32.30" fill="#f3e6bc"/>
<polygon points="801.83,32.30 804.30,29.90 804.30,38.00 801.83,40.40" fill="#f3e6bc"/>
<polygon points="801.83,40.40 804.30,38.00 804.30,46.10 801.83,48.50" fill="#f3e6bc"/>
<rect x="774.40" y="29.00" width="7.50" height="8.10" fill="#d7ecc9"/>
<rect x="774.40" y="37.10" width="7.50" height="8.10" fill="#d7ecc9"/>
<rect x="774.40" y="45.20" width="7.50" height="8.10" fill="#d7ecc9"/>
<rect x="781.90" y="29.00" width="7.50" height="8.10" fill="#f5c9cc"/>
<rect x="781.90" y="37.10" width="7.50" height="8.10" fill="#f5c9cc"/>
<rect x="781.90" y="45.20" width="7.50" height="8.10" fill="#f5c9cc"/>
<rect x="789.40" y="29.00" width="7.50" height="8.10" fill="#fdf0c8"/>
<rect x="789.40" y="37.10" width="7.50" height="8.10" fill="#fdf0c8"/>
<rect x="789.40" y="45.20" width="7.50" height="8.10" fill="#fdf0c8"/>
</g>
<!-- Pending slab -->
<g stroke="#7a7a7a" stroke-width="1">
  <polygon points="880.2,29 902.4,29 930.2,1.4 908,1.4" fill="#ececec"/>
  <polygon points="902.4,29 930.2,1.4 930.2,98 902.4,125.9" fill="#bdbdbd"/>
  <rect x="880.2" y="29" width="22.2" height="97.1" fill="#e8e8e8"/>
</g>
<g class="serif" font-size="13.2" fill="#1a1a1a" text-anchor="middle">
  <text x="748.9" y="40.7" letter-spacing="0.65">Fused</text>
  <text x="748.8" y="56.8">Frame</text>
  <text x="852.6" y="40.1" letter-spacing="0.45">Pending</text>
  <text x="852.3" y="56.1" letter-spacing="0.2">Frame</text>
</g>
<text class="serif" x="932.5" y="73.5" font-size="24.5" fill="#f00000">(b) SRM</text>

<!-- gray arrows -->
<g fill="#878787">
  <rect x="786.6" y="127" width="4.1" height="11"/>
  <polygon points="782.2,137.4 794.9,137.4 788.6,150.4"/>
  <rect x="890.6" y="127" width="4.1" height="11"/>
  <polygon points="886.3,137.4 899,137.4 892.7,150.4"/>
</g>

<!-- 2D CNN module -->
<rect x="752" y="153" width="188" height="30.5" fill="#b0b0e0" stroke="#0f0f3a" stroke-width="2.4"/>
<text class="serif" x="845.5" y="172.5" font-size="15.6" fill="#1a1a2a" text-anchor="middle">2D CNN Module</text>
<!-- blue arrow -->
<rect x="846.5" y="184" width="3.3" height="9" fill="#3f7ff2"/>
<polygon points="842.9,192.4 853.5,192.4 848.2,203.6" fill="#3f7ff2"/>

<!-- feature container -->
<rect x="749" y="203.9" width="234.6" height="51.8" fill="#abcdfa" stroke="#0f0f3a" stroke-width="2.4"/>
<rect x="760.3" y="210.4" width="93.7" height="40.6" fill="#a0a8f8" stroke="#eefaf0" stroke-width="2"/>
<rect x="882.1" y="214.2" width="70.2" height="31.2" fill="#a0a8f8" stroke="#eefaf0" stroke-width="2"/>
<g class="serif" font-size="16" fill="#1a1a2a" text-anchor="middle">
  <text x="809.1" y="225.6">Feature</text>
  <text x="807.5" y="244">Map</text>
  <text x="917.4" y="234.1">Offsets</text>
</g>

<!-- connectors to DCN -->
<g stroke="#111" stroke-width="2" fill="none">
  <line x1="871.3" y1="257" x2="871.3" y2="276.8"/>
  <polyline points="759.6,284 759.6,276.8 982.2,276.8 982.2,284"/>
  <line x1="871.3" y1="276.8" x2="871.3" y2="284"/>
  <line x1="759.6" y1="348" x2="759.6" y2="405"/>
  <polyline points="871.3,348 871.3,365 759.6,365"/>
  <polyline points="982.2,348 982.2,365 871.3,365"/>
</g>
<g fill="#111">
  <polygon points="755.1,283.6 764.1,283.6 759.6,292.6"/>
  <polygon points="866.8,283.6 875.8,283.6 871.3,292.6"/>
  <polygon points="977.7,283.6 986.7,283.6 982.2,292.6"/>
</g>
<!-- DCN boxes -->
<g fill="#00b0f0" stroke="#0f0f3a" stroke-width="2">
  <rect x="723.8" y="294.2" width="72.5" height="52.8"/>
  <rect x="835.1" y="294.2" width="72.2" height="52.8"/>
  <rect x="945.8" y="294.2" width="72.6" height="52.8"/>
</g>
<g class="sans" font-size="15.5" fill="#1a1a2a" text-anchor="middle">
  <text x="760.2" y="317.7" font-size="15.9" textLength="56.6" lengthAdjust="spacingAndGlyphs">DCN V2</text>
  <text x="760.2" y="336.1">d=3</text>
  <text x="871.2" y="317.7" font-size="15.9" textLength="56.6" lengthAdjust="spacingAndGlyphs">DCN V2</text>
  <text x="871.2" y="336.1">d=6</text>
  <text x="982.1" y="317.7" font-size="15.9" textLength="56.6" lengthAdjust="spacingAndGlyphs">DCN V2</text>
  <text x="982.1" y="336.1">d=9</text>
</g>

<!-- Add circle + output -->
<polygon points="754.3,404 765.9,404 760.1,414.8" fill="#111"/>
<circle cx="759.9" cy="442.9" r="27.2" fill="#92d050" stroke="#0f0f3a" stroke-width="2.6"/>
<text class="sans" x="759.9" y="448.8" font-size="14.6" fill="#1a1a1a" text-anchor="middle">Add</text>
<line x1="788" y1="442.3" x2="861" y2="442.3" stroke="#111" stroke-width="2"/>
<polygon points="859.8,436.3 859.8,448.3 870.8,442.3" fill="#111"/>
<g class="sans" font-size="14.6" fill="#1a1a1a" text-anchor="middle">
  <text x="824.9" y="417.8">Refinded</text>
  <text x="824.8" y="437.3">Keypoints</text>
</g>

<!-- output image -->
<g filter="url(#bl)"><svg x="871.2" y="397.2" width="162.5" height="91.4" viewBox="0 0 161 90" preserveAspectRatio="none" overflow="hidden"><rect width="161" height="90" fill="url(#outbg)"/>
    <polygon points="0,0 60,0 58,30 0,42" fill="#b8b8b8" opacity="0.8"/>
    <polygon points="0,32 52,4 60,12 4,48 0,50" fill="#c8c8c8"/>
    <rect x="0" y="0" width="4" height="90" fill="#9a9a9a"/>
    <polygon points="0,50 55,40 58,90 0,90" fill="#7e7e80" opacity="0.8"/>
    <rect x="57" y="0" width="10" height="64" fill="#c2c2c2"/>
    <polygon points="70,8 90,2 108,8 104,22 84,40 70,36" fill="#969698"/>
    <polygon points="80,6 98,1 108,8 96,15" fill="#aab0c0"/>
    <polygon points="84,30 120,16 124,34 96,50" fill="#8a8a8a"/>
    <polygon points="62,50 120,40 126,90 60,90" fill="#4e4e4e" opacity="0.85"/>
    <path d="M92,70 Q120,84 161,54" stroke="#8e8e8e" stroke-width="5" fill="none"/>
    <path d="M56,20 Q70,60 98,90" stroke="#8a8a8a" stroke-width="2" fill="none"/>
    <line x1="122" y1="0" x2="161" y2="30" stroke="#7a7a7a" stroke-width="1"/>
    <line x1="128" y1="0" x2="161" y2="22" stroke="#8a8a8a" stroke-width="1"/>
    <line x1="108" y1="90" x2="150" y2="0" stroke="#6a6a6a" stroke-width="1"/>
    <line x1="150" y1="30" x2="161" y2="86" stroke="#6a6a7a" stroke-width="1.5"/>
    <!-- left person box -->
    <polygon points="12,50 20,47 24,64 21,88 12,88" fill="#84706a" opacity="0.85"/>
    <rect x="6.5" y="42" width="34.4" height="47.4" fill="none" stroke="#2a3aa0" stroke-width="0.9"/>
    <rect x="6.5" y="38.5" width="25" height="3.6" fill="#4a88c8" opacity="0.85"/>
    <polyline points="16,50 12,52 12,62" stroke="#30e030" stroke-width="1.6" fill="none"/>
    <polyline points="10,62 20,62 30,70 39,76" stroke="#2e8cf0" stroke-width="1.4" fill="none"/>
    <polyline points="11,62 14,86 19,86 20,62" stroke="#d040d0" stroke-width="1.2" fill="none"/>
    <circle cx="16" cy="51" r="2" fill="#30e030"/>
    <circle cx="30" cy="70" r="1.4" fill="#2e8cf0"/>
    <circle cx="39" cy="76" r="1.4" fill="#2e8cf0"/>
    <!-- right person box -->
    <polygon points="136,18 146,14 148,30 144,46 138,48 134,36" fill="#7a6250" opacity="0.8"/>
    <rect x="124.3" y="13.9" width="26.6" height="51.3" fill="none" stroke="#2a3aa0" stroke-width="0.9"/>
    <rect x="124.3" y="10.3" width="25" height="3.6" fill="#4a88c8" opacity="0.85"/>
    <polyline points="146,22 142,28 138,34" stroke="#30e030" stroke-width="1.6" fill="none"/>
    <polyline points="132,28 136,36 146,32" stroke="#2e8cf0" stroke-width="1.6" fill="none"/>
    <polyline points="138,36 140,50 144,50 146,34" stroke="#d040d0" stroke-width="1.2" fill="none"/>
    <path d="M140,50 L130,56 L132,68 M144,50 L136,60 L137,70" stroke="#f0902a" stroke-width="1.3" fill="none"/>
    <circle cx="144" cy="22" r="2" fill="#30e030"/>
    <circle cx="130" cy="56" r="1.2" fill="#f0902a"/>
    <circle cx="132" cy="68" r="1.2" fill="#f0902a"/></svg></g>
<rect x="871.2" y="397.2" width="162.5" height="91.4" fill="none" stroke="#f00000" stroke-width="2.5"/>

</svg>
</body></html>
